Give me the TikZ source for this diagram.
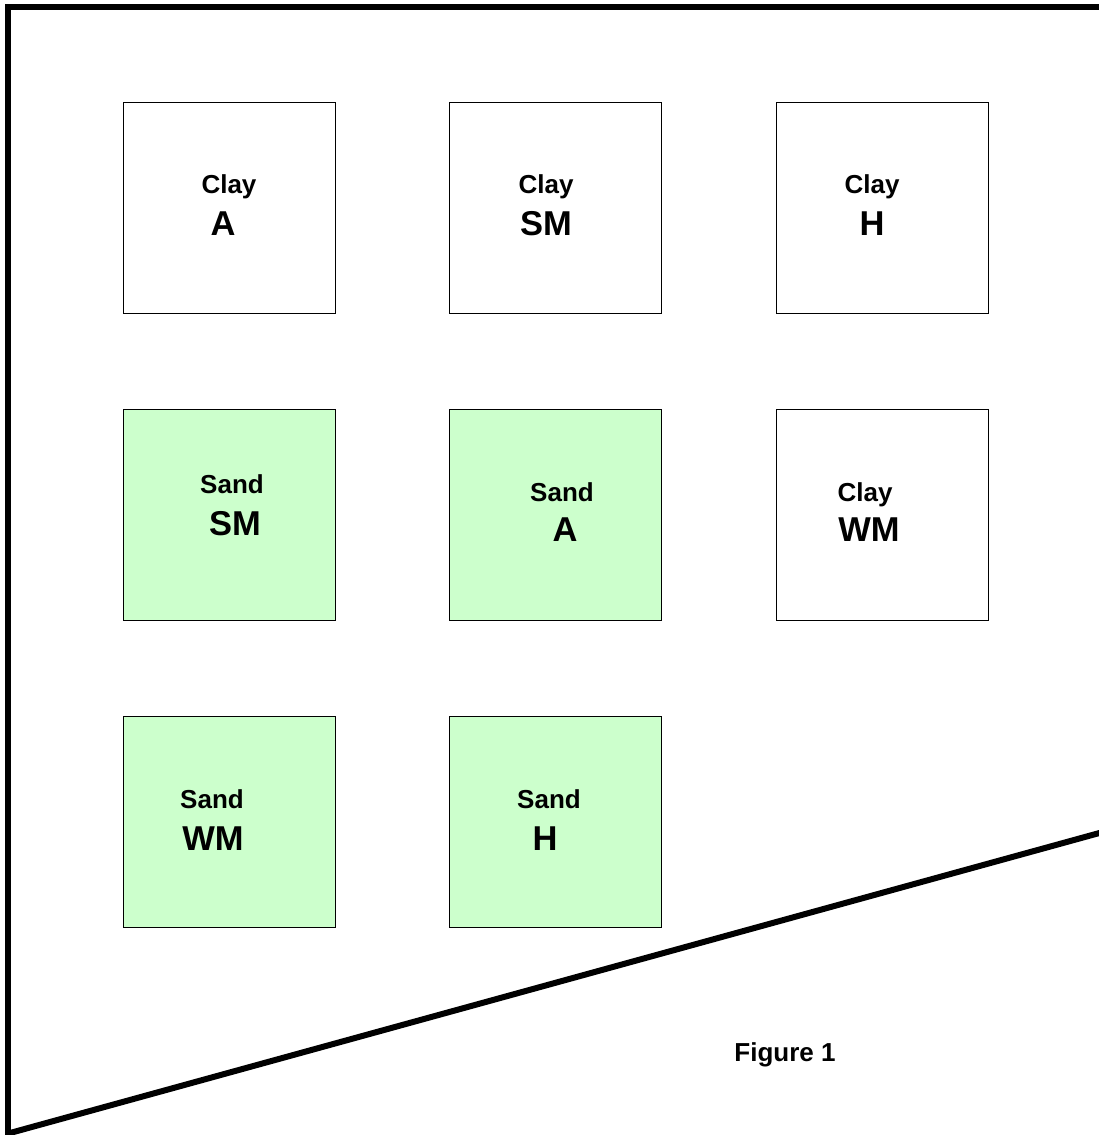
\documentclass[tikz,border=0pt]{standalone}
\usepackage{fontspec}
\setmainfont{Liberation Sans}
\definecolor{sandgreen}{HTML}{CCFFCC}
\newcommand{\Plot}[4][white]{\node[plot, fill=#1] (#2) at (#3,#4) {};}

\begin{document}
\begin{tikzpicture}[x=1pt, y=-1pt,
  plot/.style={draw, line width=1.4pt, anchor=north west, inner sep=0pt,
    minimum width=212pt, minimum height=211pt},
  soil/.style={anchor=base, inner sep=0pt, font=\bfseries\fontsize{26}{26}\selectfont},
  treat/.style={anchor=base, inner sep=0pt, font=\bfseries\fontsize{34.5}{34.5}\selectfont},
  edge/.style={line width=6pt}]
\useasboundingbox (0,0) rectangle (1099,1135);

% field outline
\coordinate (TL) at (8,7);
\coordinate (TR) at (1103,7);
\coordinate (BL) at (8,1140);
\coordinate (DL) at (10,1133);
\coordinate (DR) at (1103,832);
\draw[edge] (5,7) -- (TR);
\draw[edge] (TL) -- (BL);
\draw[edge] (DL) -- (DR);

% plots
\Plot{P1}{123}{102}
\Plot{P2}{449}{102}
\Plot{P3}{776}{102}
\Plot[sandgreen]{P4}{123}{409}
\Plot[sandgreen]{P5}{449}{409}
\Plot{P6}{776}{409}
\Plot[sandgreen]{P7}{123}{716}
\Plot[sandgreen]{P8}{449}{716}

% labels
\node[soil] (S1) at (229,193) {Clay};
\node[treat] (T1) at (223,235) {A};
\node[soil] (S2) at (546,193) {Clay};
\node[treat] (T2) at (546,235) {SM};
\node[soil] (S3) at (872,193) {Clay};
\node[treat] (T3) at (872,235) {H};

\node[soil] (S4) at (232,493) {Sand};
\node[treat] (T4) at (235,535) {SM};
\node[soil] (S5) at (562,501) {Sand};
\node[treat] (T5) at (565,541) {A};
\node[soil] (S6) at (865,501) {Clay};
\node[treat] (T6) at (869,541) {WM};

\node[soil] (S7) at (212,808) {Sand};
\node[treat] (T7) at (213,850) {WM};
\node[soil] (S8) at (549,808) {Sand};
\node[treat] (T8) at (545,850) {H};

\node[soil] (fig) at (785,1061) {Figure 1};

\end{tikzpicture}
\end{document}
